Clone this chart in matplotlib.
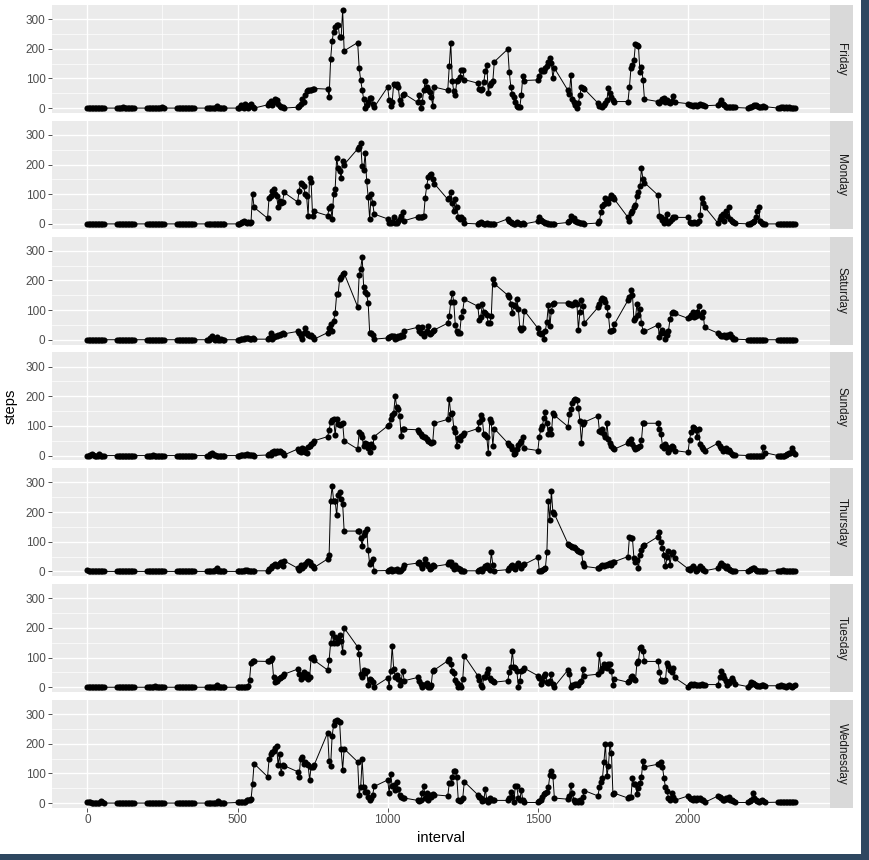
import matplotlib
matplotlib.use("Agg")
import matplotlib.pyplot as plt
from matplotlib.patches import Rectangle
import numpy as np

# ---------------- data ----------------
days = ["Friday", "Monday", "Saturday", "Sunday", "Thursday", "Tuesday", "Wednesday"]

hours = list(range(24))
minutes = list(range(0, 60, 5))

friday = [
    0,0,0,0,0,0,0,0,0,0,0,0,
    0,0,0,0,4,0,0,0,0,0,0,0,
    0,0,0,0,0,0,0,0,0,0,3,0,
    0,0,0,0,0,0,0,0,0,0,0,0,
    0,0,0,0,0,0,8,0,0,0,0,0,
    0,0,12,4,0,14,6,0,10,13,3,0,
    11,17,25,10,20,30,26,14,8,5,3,0,
    3,8,15,30,19,45,56,60,60,62,64,66,
    64,37,165,227,258,275,281,281,238,238,331,193,
    221,135,95,62,30,0,11,22,34,34,15,3,
    71,26,8,22,82,79,82,71,28,13,45,48,
    19,45,0,19,60,90,71,62,53,39,8,71,
    60,143,221,92,56,45,90,96,104,127,129,96,
    84,64,60,64,87,126,145,51,79,84,90,156,
    199,120,71,48,37,22,8,3,3,45,109,93,
    95,109,127,126,124,135,143,157,169,152,101,135,
    60,48,112,30,19,10,0,17,45,71,67,64,
    17,8,6,3,10,17,28,67,51,37,26,22,
    22,71,135,146,161,217,213,208,120,140,96,30,
    22,18,25,30,34,20,26,22,18,25,41,20,
    15,12,10,8,10,12,8,10,14,12,10,8,
    10,18,26,15,10,5,3,3,2,2,3,2,
    0,2,5,8,12,10,6,4,3,5,8,5,
    0,0,5,3,0,2,0,4,0,0,0,0,
]

monday = [
    0,0,0,0,0,0,0,0,0,0,0,0,
    0,0,0,0,0,0,0,0,0,0,0,0,
    0,0,0,0,0,0,0,0,0,0,0,0,
    0,0,0,0,0,0,0,0,0,0,0,0,
    0,0,0,0,0,0,0,0,0,0,0,0,
    0,1,3,6,10,5,3,6,4,8,102,56,
    19,89,94,111,117,102,94,58,78,72,74,106,
    74,111,137,133,128,100,94,27,156,142,27,42,
    28,53,61,17,100,117,222,189,178,156,211,200,
    253,261,272,194,183,239,144,91,17,100,72,33,
    17,2,2,5,24,2,2,9,17,28,39,11,
    24,24,24,24,28,89,128,158,164,167,150,136,
    83,89,109,69,44,83,56,24,17,24,17,2,
    0,3,5,2,0,0,3,0,0,0,0,0,
    17,9,5,3,0,0,5,2,0,0,3,0,
    9,22,14,9,5,3,2,0,0,0,0,0,
    5,10,28,15,20,10,8,5,3,3,2,0,
    3,9,39,60,67,89,78,72,89,98,91,83,
    22,11,36,42,56,64,94,106,128,187,150,139,
    97,28,22,13,2,17,33,2,9,17,22,22,
    22,6,2,2,6,2,2,9,31,89,69,58,
    2,17,27,33,11,42,28,58,17,9,6,2,
    0,0,2,5,10,22,44,58,10,2,0,0,
    0,0,0,0,0,0,0,0,0,0,0,0,
]

saturday = [
    0,0,0,0,0,0,0,0,0,0,0,0,
    0,0,0,0,0,0,0,0,0,0,0,0,
    0,0,0,0,0,0,0,0,0,0,0,0,
    0,0,0,0,0,0,0,0,0,0,0,0,
    0,0,5,12,3,0,8,0,0,4,0,0,
    0,0,2,3,4,5,6,5,3,4,6,2,
    2,5,24,3,9,13,11,17,16,20,22,20,
    28,24,13,2,22,39,22,17,11,17,9,2,
    24,39,53,28,64,91,153,153,206,213,220,224,
    111,217,239,278,178,161,153,124,24,22,17,2,
    6,9,11,13,11,2,6,11,9,17,11,31,
    42,31,22,42,11,22,31,47,20,24,28,33,
    56,80,128,158,128,50,28,22,24,78,98,136,
    113,67,78,120,94,89,83,56,58,80,206,189,
    150,144,122,89,117,113,139,102,39,33,39,98,
    39,22,20,22,2,31,61,117,47,98,120,124,
    124,122,120,117,122,128,122,33,94,133,113,56,
    109,120,133,142,136,128,109,83,31,28,33,53,
    133,144,167,150,67,72,122,83,102,56,31,28,
    50,9,22,33,22,2,17,31,69,91,94,89,
    72,78,83,94,78,80,94,113,83,78,94,42,
    22,17,11,13,17,9,17,11,20,9,2,2,
    0,0,0,0,0,0,0,0,0,0,0,0,
    0,0,0,0,0,0,0,0,0,0,0,0,
]

sunday = [
    0,0,3,5,2,0,0,0,4,0,0,0,
    0,0,0,0,0,0,0,0,0,0,0,0,
    0,0,0,0,2,0,0,0,0,0,0,0,
    0,0,0,0,0,0,0,0,0,0,0,0,
    0,0,5,8,3,2,0,0,0,0,0,0,
    0,0,1,2,3,2,4,3,2,1,2,0,
    2,5,2,11,17,9,17,11,17,11,9,2,
    22,17,11,24,22,11,9,28,33,39,44,50,
    64,87,113,120,124,69,122,106,102,106,111,50,
    22,78,72,61,33,44,39,24,13,39,28,64,
    100,102,122,136,144,200,164,158,133,67,91,89,
    87,80,72,67,64,61,56,50,47,42,47,109,
    122,191,139,144,94,78,31,58,53,67,69,76,
    91,113,136,124,72,69,61,9,122,113,33,91,
    42,36,31,22,6,9,22,36,44,50,61,24,
    17,64,89,100,128,147,111,72,89,72,142,136,
    98,139,156,178,189,191,187,161,117,44,106,113,
    133,83,78,89,72,61,111,56,42,33,24,22,
    42,50,56,39,28,22,24,28,33,53,109,109,
    109,89,72,33,24,39,28,11,22,33,28,17,
    11,53,80,98,94,87,64,89,39,28,22,17,
    42,33,24,17,22,24,17,20,11,6,2,2,
    0,0,0,0,0,0,0,0,0,0,28,10,
    0,0,0,0,0,3,5,8,10,25,12,5,
]

thursday = [
    5,3,0,0,2,0,0,0,0,0,0,0,
    0,0,0,0,3,0,0,0,2,0,0,0,
    0,0,0,0,0,0,0,0,0,0,0,0,
    0,0,0,0,0,0,0,0,0,0,0,0,
    0,0,0,0,0,5,12,3,0,0,0,0,
    0,0,2,3,2,4,5,3,2,1,3,2,
    2,9,11,17,20,24,17,22,28,31,17,36,
    11,6,22,11,17,24,33,36,31,22,17,13,
    42,56,239,287,239,239,189,256,267,244,228,136,
    136,136,111,87,124,133,142,72,24,33,42,2,
    3,5,8,2,5,6,8,3,0,5,10,22,
    28,33,22,11,24,42,24,17,9,11,22,17,
    24,31,31,17,9,22,13,11,9,2,2,2,
    2,6,9,2,11,17,22,11,6,64,22,2,
    6,11,17,22,11,9,20,28,17,11,20,24,
    47,2,2,6,9,11,64,239,172,272,200,194,
    94,89,87,83,83,78,72,69,64,67,28,17,
    11,13,17,22,17,20,22,24,28,22,31,33,
    50,117,113,111,44,31,39,11,56,72,87,89,
    117,133,98,80,56,17,47,69,22,58,64,44,
    9,6,11,17,11,2,6,11,17,11,6,2,
    11,22,28,22,17,11,17,9,6,2,2,2,
    3,5,8,13,10,5,3,2,0,0,0,0,
    3,0,2,5,3,0,0,2,0,0,0,0,
]

tuesday = [
    0,0,0,0,0,0,0,0,0,0,0,0,
    0,0,0,0,0,0,0,0,0,0,0,0,
    0,0,0,0,0,5,0,0,0,0,0,0,
    0,0,0,0,0,0,0,0,0,0,0,0,
    0,0,0,0,0,0,8,0,0,0,0,0,
    0,0,0,0,0,0,0,3,24,83,87,88,
    87,89,91,98,33,17,22,28,31,33,39,44,
    61,44,28,39,53,33,44,28,33,98,102,91,
    58,91,150,183,150,169,150,161,176,156,120,200,
    136,111,44,33,58,47,56,9,28,24,17,2,
    31,2,56,139,61,36,42,28,9,22,56,22,
    33,22,11,2,9,9,13,2,2,9,56,58,
    89,94,80,56,47,24,13,2,9,2,28,106,
    39,24,9,2,33,36,47,61,31,24,20,17,
    22,53,67,122,69,64,56,2,22,56,58,64,
    39,31,11,22,39,44,17,13,22,44,11,2,
    58,44,2,6,9,11,11,9,17,22,61,39,
    44,113,56,64,78,69,64,78,80,56,9,28,
    17,22,36,39,28,24,83,89,133,136,122,87,
    87,53,24,20,22,24,83,72,58,50,64,33,
    2,6,11,9,11,6,9,6,9,11,6,9,
    9,33,56,42,31,20,9,13,22,31,22,11,
    2,9,17,13,11,9,5,3,5,6,8,5,
    5,3,8,5,3,2,4,6,3,2,5,8,
]

wednesday = [
    5,3,2,0,0,0,0,0,0,8,3,0,
    0,0,0,0,0,0,0,0,0,0,0,0,
    0,0,0,0,0,0,0,0,0,0,0,0,
    0,0,0,0,0,0,0,0,0,0,0,0,
    0,0,0,0,0,0,0,8,0,0,0,0,
    2,5,2,5,2,5,9,11,9,13,64,133,
    89,147,167,172,175,185,194,128,164,100,128,126,
    106,89,150,156,133,139,133,128,78,122,120,128,
    237,141,126,226,264,278,280,276,272,181,113,183,
    139,28,53,147,53,36,39,20,9,17,28,56,
    78,33,98,56,61,44,72,47,28,22,17,17,
    9,6,9,33,58,17,33,11,28,22,31,28,
    24,67,69,87,109,109,89,11,6,9,17,72,
    28,22,17,6,9,47,11,2,17,11,9,9,
    9,17,36,22,2,58,56,17,11,44,9,2,
    2,6,11,22,31,33,36,53,94,109,91,17,
    13,24,61,33,11,2,6,2,9,2,22,42,
    24,53,72,83,139,200,91,124,200,169,31,33,
    17,20,20,83,64,64,31,50,69,89,142,122,
    131,133,139,122,83,53,42,17,9,33,22,9,
    24,17,13,11,17,11,17,13,17,11,11,2,
    24,20,17,11,9,17,13,20,9,11,6,2,
    2,6,9,33,17,9,6,2,6,9,6,2,
    3,5,2,4,3,2,5,3,2,3,4,2,
]

series = [friday, monday, saturday, sunday, thursday, tuesday, wednesday]

x_major = [0, 500, 1000, 1500, 2000]
x_minor = [250, 750, 1250, 1750, 2250]
y_major = [0, 100, 200, 300]
y_minor = [50, 150, 250]

# interval identifiers (HHMM)
interval = np.array([h * 100 + m for h in hours for m in minutes])

# ---------------- figure ----------------
W, H = 870, 860
fig = plt.figure(figsize=(W / 100, H / 100), dpi=100, facecolor="white")
plt.rcParams["font.family"] = ["Liberation Sans", "DejaVu Sans"]

# dark window frame at right/bottom
fig.patches.append(Rectangle((861 / W, 0), 1, 1, transform=fig.transFigure,
                             facecolor="#2e4760", edgecolor="none", zorder=-5))
fig.patches.append(Rectangle((0, 0), 1, (H - 854) / H, transform=fig.transFigure,
                             facecolor="#2e4760", edgecolor="none", zorder=-5))

left_px, right_px = 52, 830
strip_w = 23
top0, step, ph = 5, 115.83, 108

allv = np.concatenate([np.array(s, float) for s in series])
ymax = allv.max()
ylo, yhi = -0.05 * ymax, ymax * 1.05
xr = interval.max() - interval.min()
xlo, xhi = interval.min() - 0.05 * xr, interval.max() + 0.05 * xr

tick_fs = 8.45
for i, (day, vals) in enumerate(zip(days, series)):
    top = top0 + i * step
    rect = [left_px / W, 1 - (top + ph) / H, (right_px - left_px) / W, ph / H]
    ax = fig.add_axes(rect, facecolor="#ebebeb")
    ax.set_xlim(xlo, xhi)
    ax.set_ylim(ylo, yhi)
    for v in x_minor:
        ax.axvline(v, color="white", lw=0.5, zorder=0)
    for v in y_minor:
        ax.axhline(v, color="white", lw=0.5, zorder=0)
    for v in x_major:
        ax.axvline(v, color="white", lw=1.0, zorder=0.5)
    for v in y_major:
        ax.axhline(v, color="white", lw=1.0, zorder=0.5)
    ax.plot(interval, vals, color="black", lw=0.7, zorder=2)
    ax.plot(interval, vals, "o", color="black", ms=4.4, mew=0, zorder=3)
    for s in ax.spines.values():
        s.set_visible(False)
    ax.set_yticks(y_major)
    ax.set_yticklabels([str(v) for v in y_major])
    ax.set_xticks(x_major)
    ax.tick_params(axis="both", colors="#333333", length=2.6, width=0.6,
                   labelcolor="#4d4d4d", labelsize=tick_fs, pad=2)
    if i == len(days) - 1:
        ax.set_xticklabels([str(v) for v in x_major])
    else:
        ax.tick_params(axis="x", length=0, labelbottom=False)
    # strip
    sax = fig.add_axes([right_px / W, rect[1], strip_w / W, ph / H], facecolor="#d9d9d9")
    sax.set_xticks([]); sax.set_yticks([])
    for s in sax.spines.values():
        s.set_visible(False)
    sax.text(0.5, 0.5, day, rotation=270, ha="center", va="center",
             fontsize=tick_fs, color="#1a1a1a", transform=sax.transAxes)

bottom_px = top0 + 6 * step + ph
fig.text((left_px + right_px) / 2 / W, 1 - 838 / H, "interval", ha="center", va="center",
         fontsize=10.6, color="black")
fig.text(11 / W, 1 - ((top0 + bottom_px) / 2) / H, "steps", ha="center", va="center",
         rotation=90, fontsize=10.6, color="black")

fig.savefig("out.png", dpi=100, facecolor="white")
